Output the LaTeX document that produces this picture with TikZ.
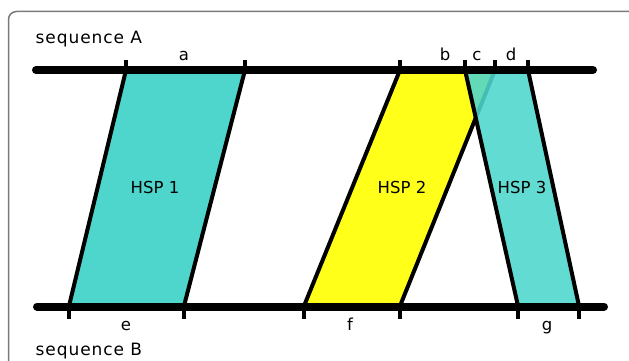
\documentclass[tikz,border=0pt]{standalone}
\usepackage{fontspec}
\setmainfont{DejaVu Sans}
\newfontfamily\seqfont[LetterSpace=5.5]{DejaVu Sans}
\definecolor{hspteal}{HTML}{4ED6CD}
\definecolor{hspyellow}{HTML}{FFFF1A}
\definecolor{framegray}{HTML}{7A7A7A}
\begin{document}
\begin{tikzpicture}[x=1pt,y=-1pt,
  lbl/.style={anchor=base,inner sep=0pt,font=\fontsize{16.5}{20}\selectfont},
  seqlbl/.style={anchor=base west,inner sep=0pt,font=\seqfont\fontsize{17}{20}\selectfont},
  hsp/.style={draw=black,line width=4pt,line join=round},
  bar/.style={line width=8pt,line cap=round},
  tick/.style={line width=4pt}]
\useasboundingbox (0,0) rectangle (629,361);
\clip (0,0) rectangle (629,361);
\draw[framegray,line width=1.5pt,rounded corners=8pt] (8.5,11.5) rectangle (660,400);
% HSPs
\draw[hsp,fill=hspteal] (126,70) -- (245,70) -- (184,306) -- (69,306) -- cycle;
\draw[hsp,fill=hspyellow] (400,70) -- (495,70) -- (400,306) -- (304,306) -- cycle;
\draw[hsp,fill=hspteal,fill opacity=0.886] (465,70) -- (528,70) -- (579,306) -- (518,306) -- cycle;
% sequence bars
\coordinate (A1) at (36,70); \coordinate (A2) at (593,70);
\coordinate (B1) at (37,306.5); \coordinate (B2) at (604,306.5);
\draw[bar] (A1) -- (A2);
\draw[bar] (B1) -- (B2);
\foreach \x in {126,245,400,465,495,528} \draw[tick] (\x,70) -- (\x,60);
\foreach \x in {69,184,304,400,518,579} \draw[tick] (\x,306) -- (\x,319);
% labels
\node[seqlbl] (seqA) at (35.5,44) {sequence A};
\node[seqlbl] (seqB) at (35.5,355) {sequence B};
\node[lbl] (la) at (184,60) {a};
\node[lbl] (lb) at (445,60) {b};
\node[lbl] (lc) at (477,60) {c};
\node[lbl] (ld) at (511,60) {d};
\node[lbl] (le) at (126,330) {e};
\node[lbl] (lf) at (350,330) {f};
\node[lbl] (lg) at (547,330) {g};
\node[lbl] (h1) at (155,193) {HSP 1};
\node[lbl] (h2) at (402,193) {HSP 2};
\node[lbl] (h3) at (522,193) {HSP 3};
\end{tikzpicture}
\end{document}
